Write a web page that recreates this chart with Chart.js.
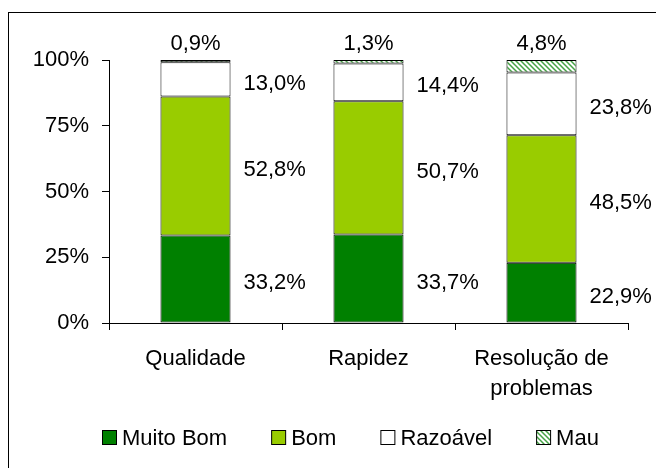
<!DOCTYPE html>
<html>
<head>
<meta charset="utf-8">
<script src="https://cdn.jsdelivr.net/npm/chart.js@4/dist/chart.umd.min.js"></script>
<style>
  html, body { margin: 0; padding: 0; background: #fff; }
</style>
</head>
<body>
<canvas id="ratingChart" width="656" height="468"></canvas>
<script>
// Survey results, in percent
const categories = ["Qualidade", "Rapidez", ["Resolução de", "problemas"]];
const muitoBom = [33.2, 33.7, 22.9];
const bom = [52.8, 50.7, 48.5];
const razoavel = [13.0, 14.4, 23.8];
const mau = [0.9, 1.3, 4.8];
const yTicks = [0, 25, 50, 75, 100];

const series = [muitoBom, bom, razoavel, mau];
const seriesNames = ["Muito Bom", "Bom", "Razoável", "Mau"];

// 100% stacked: scale each column so it fills the axis
const totals = categories.map((c, i) => series.reduce((s, arr) => s + arr[i], 0));
const share = arr => arr.map((v, i) => (v / totals[i]) * 100);

// hatch pattern for "Mau"
function hatch() {
  const n = 5;
  const c = document.createElement("canvas");
  c.width = n; c.height = n;
  const g = c.getContext("2d");
  g.fillStyle = "#fff";
  g.fillRect(0, 0, n, n);
  g.strokeStyle = "#45a345";
  g.lineWidth = 1.5;
  g.beginPath();
  g.moveTo(-1, -1); g.lineTo(n + 1, n + 1);
  g.moveTo(n - 1, -1); g.lineTo(n + 1, 1);
  g.moveTo(-1, n - 1); g.lineTo(1, n + 1);
  g.stroke();
  return g.createPattern(c, "repeat");
}

const fillColors = ["#008000", "#99cc00", "#ffffff", hatch()];
const FONT = "'Liberation Sans', Arial, sans-serif";

Chart.defaults.font.family = FONT;
Chart.defaults.color = "#000";

// value labels next to / above the segments
const valueLabels = {
  id: "valueLabels",
  afterDatasetsDraw(chart) {
    const ctx = chart.ctx;
    ctx.save();
    ctx.font = "22px " + FONT;
    ctx.fillStyle = "#000";
    ctx.textBaseline = "middle";
    series.forEach((vals, di) => {
      chart.getDatasetMeta(di).data.forEach((bar, i) => {
        const p = bar.getProps(["x", "y", "base", "width"], true);
        const txt = vals[i].toFixed(1).replace(".", ",") + "%";
        if (di === 3) {
          ctx.textAlign = "center";
          ctx.fillText(txt, p.x, p.y - 16);
        } else {
          ctx.textAlign = "left";
          ctx.fillText(txt, p.x + p.width / 2 + 13, (p.y + p.base) / 2 + 4);
        }
      });
    });
    ctx.restore();
  }
};

// legend row under the axis
const legendRow = {
  id: "legendRow",
  afterDraw(chart) {
    const ctx = chart.ctx;
    ctx.save();
    ctx.font = "22px " + FONT;
    ctx.textBaseline = "middle";
    ctx.textAlign = "left";
    let x = 102;
    const y = 438;
    chart.data.datasets.forEach(ds => {
      ctx.fillStyle = ds.backgroundColor;
      ctx.fillRect(x + 0.5, y - 7.5, 14, 14);
      ctx.strokeStyle = "#000";
      ctx.lineWidth = 1;
      ctx.strokeRect(x + 0.5, y - 7.5, 14, 14);
      ctx.fillStyle = "#000";
      ctx.fillText(ds.label, x + 20, y + 1);
      x += 20 + ctx.measureText(ds.label).width + 44;
    });
    ctx.restore();
  }
};

// outer frame
const frame = {
  id: "frame",
  beforeDraw(chart) {
    const ctx = chart.ctx;
    ctx.save();
    ctx.fillStyle = "#fff";
    ctx.fillRect(0, 0, chart.width, chart.height);
    ctx.strokeStyle = "#000";
    ctx.lineWidth = 1;
    ctx.strokeRect(8.5, 12.5, 700, 500);
    ctx.restore();
  }
};

new Chart(document.getElementById("ratingChart"), {
  type: "bar",
  data: {
    labels: categories,
    datasets: series.map((arr, i) => ({
      label: seriesNames[i],
      data: share(arr),
      backgroundColor: fillColors[i],
      borderColor: "#000",
      borderWidth: 1,
      borderSkipped: false,
      barPercentage: 0.405,
      categoryPercentage: 1
    }))
  },
  options: {
    responsive: false,
    animation: false,
    layout: { padding: { top: 60, right: 28, bottom: 60, left: 0 } },
    plugins: {
      tooltip: { enabled: false },
      legend: { display: false }
    },
    scales: {
      x: {
        stacked: true,
        grid: { offset: true, drawOnChartArea: false, tickLength: 7, color: "#000" },
        border: { color: "#000" },
        ticks: { font: { size: 22, lineHeight: 1.36 }, padding: 14, maxRotation: 0, autoSkip: false },
        afterFit(s) { s.height = 85; }
      },
      y: {
        stacked: true,
        min: 0,
        max: 100,
        grid: { drawOnChartArea: false, tickLength: 7, color: "#000" },
        border: { color: "#000" },
        ticks: { font: { size: 22 }, padding: 13, callback: v => v + "%" },
        afterBuildTicks(s) { s.ticks = yTicks.map(v => ({ value: v })); },
        afterFit(s) { s.width = 109; }
      }
    }
  },
  plugins: [frame, valueLabels, legendRow]
});
</script>
</body>
</html>
